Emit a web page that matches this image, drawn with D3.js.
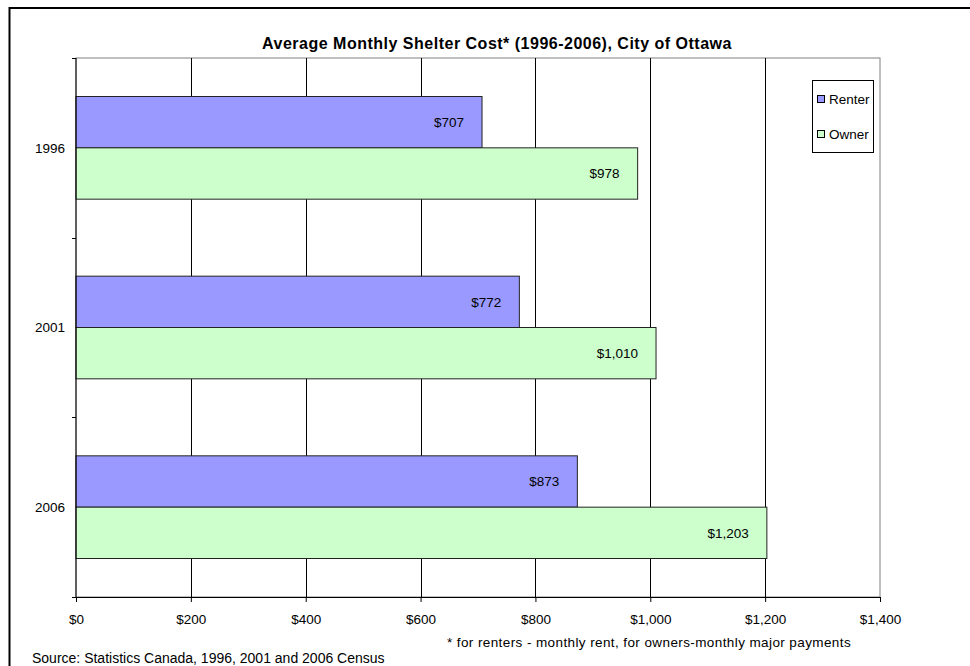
<!DOCTYPE html>
<html><head><meta charset="utf-8">
<script src="https://cdn.jsdelivr.net/npm/d3@7"></script>
<style>body{margin:0;background:#fff}svg{display:block}text{font-family:"Liberation Sans",Arial,sans-serif}</style>
</head><body>
<svg id="c" width="970" height="666"></svg>
<script>
const years = ["1996", "2001", "2006"];
const renter = [707, 772, 873];
const owner = [978, 1010, 1203];
const seriesNames = ["Renter", "Owner"];
const seriesColors = ["#9999FF", "#CCFFCC"];
const xTicks = [0, 200, 400, 600, 800, 1000, 1200, 1400];
const titleText = "Average Monthly Shelter Cost* (1996-2006), City of Ottawa";
const footnote = "* for renters - monthly rent, for owners-monthly major payments";
const sourceText = "Source: Statistics Canada, 1996, 2001 and 2006 Census";

const svg = d3.select("#c");
const L = 76, R = 880, T = 58, B = 597;

// outer border
svg.append("rect").attr("x", 9.5).attr("y", 8).attr("width", 1000).attr("height", 700)
  .attr("fill", "#fff").attr("stroke", "#000").attr("stroke-width", 2);

const x = d3.scaleLinear().domain([0, 1400]).range([L, R]);
const y = d3.scaleBand().domain(years).range([T, B]).paddingInner(0.4286).paddingOuter(0.2143);
const bw = y.bandwidth() / 2;

// plot area border (top/right gray)
svg.append("rect").attr("x", L).attr("y", T).attr("width", R - L).attr("height", B - T)
  .attr("fill", "#fff").attr("stroke", "#808080").attr("stroke-width", 1);

// gridlines
svg.append("g").selectAll("line").data(xTicks.slice(1, -1)).join("line")
  .attr("x1", d => Math.round(x(d)) + 0.5).attr("x2", d => Math.round(x(d)) + 0.5)
  .attr("y1", T).attr("y2", B).attr("stroke", "#000").attr("stroke-width", 1);

// bars
const data = [];
years.forEach((yr, i) => {
  data.push({ yr, s: 0, v: renter[i] });
  data.push({ yr, s: 1, v: owner[i] });
});
const g = svg.append("g");
g.selectAll("rect").data(data).join("rect")
  .attr("x", L).attr("y", d => y(d.yr) + d.s * bw)
  .attr("width", d => x(d.v) - L).attr("height", bw)
  .attr("fill", d => seriesColors[d.s]).attr("stroke", "#222").attr("stroke-width", 1);
g.selectAll("text").data(data).join("text")
  .attr("x", d => x(d.v) - 18).attr("y", d => y(d.yr) + d.s * bw + bw / 2)
  .attr("dy", "0.36em").attr("text-anchor", "end").attr("font-size", 13.5)
  .text(d => "$" + d3.format(",")(d.v));

// x axis
const xa = svg.append("g").attr("transform", `translate(0,${B})`)
  .call(d3.axisBottom(x).tickValues(xTicks).tickSize(5).tickPadding(12)
    .tickFormat(d => "$" + d3.format(",")(d)));
xa.select(".domain").attr("stroke", "#000");
xa.selectAll("text").attr("font-size", 13.5).attr("fill", "#000").attr("font-family", "Liberation Sans, Arial, sans-serif");

// y axis
svg.append("line").attr("x1", L).attr("x2", L).attr("y1", T).attr("y2", B).attr("stroke", "#000");
const yTickPos = [T, ...years.map(yr => y(yr) + y.bandwidth() + y.step() * y.paddingInner() / 2).slice(0, -1), B];
svg.append("g").selectAll("line").data(yTickPos).join("line")
  .attr("x1", L - 4).attr("x2", L).attr("y1", d => Math.round(d) + 0.5).attr("y2", d => Math.round(d) + 0.5)
  .attr("stroke", "#000");
svg.append("g").selectAll("text").data(years).join("text")
  .attr("x", 65).attr("y", d => y(d) + y.bandwidth() / 2).attr("dy", "0.36em")
  .attr("text-anchor", "end").attr("font-size", 13.5).text(d => d);

// title
svg.append("text").attr("x", 497).attr("y", 43).attr("dy", "0.36em").attr("text-anchor", "middle")
  .attr("font-size", 16).attr("letter-spacing", 0.5).attr("font-weight", "bold").text(titleText);

// legend
const lg = svg.append("g");
lg.append("rect").attr("x", 812.5).attr("y", 80.5).attr("width", 61).attr("height", 72)
  .attr("fill", "#fff").attr("stroke", "#000");
seriesNames.forEach((n, i) => {
  const cy = 99.5 + i * 35;
  lg.append("rect").attr("x", 817.5).attr("y", cy - 4).attr("width", 7).attr("height", 7)
    .attr("fill", seriesColors[i]).attr("stroke", "#000");
  lg.append("text").attr("x", 829).attr("y", cy).attr("dy", "0.36em").attr("font-size", 13.5).text(n);
});

// footnotes
svg.append("text").attr("x", 447).attr("y", 642).attr("dy", "0.36em").attr("font-size", 13.5)
  .attr("letter-spacing", 0.4).text(footnote);
svg.append("text").attr("x", 32).attr("y", 658).attr("dy", "0.36em").attr("font-size", 14).text(sourceText);
</script>
</body></html>
